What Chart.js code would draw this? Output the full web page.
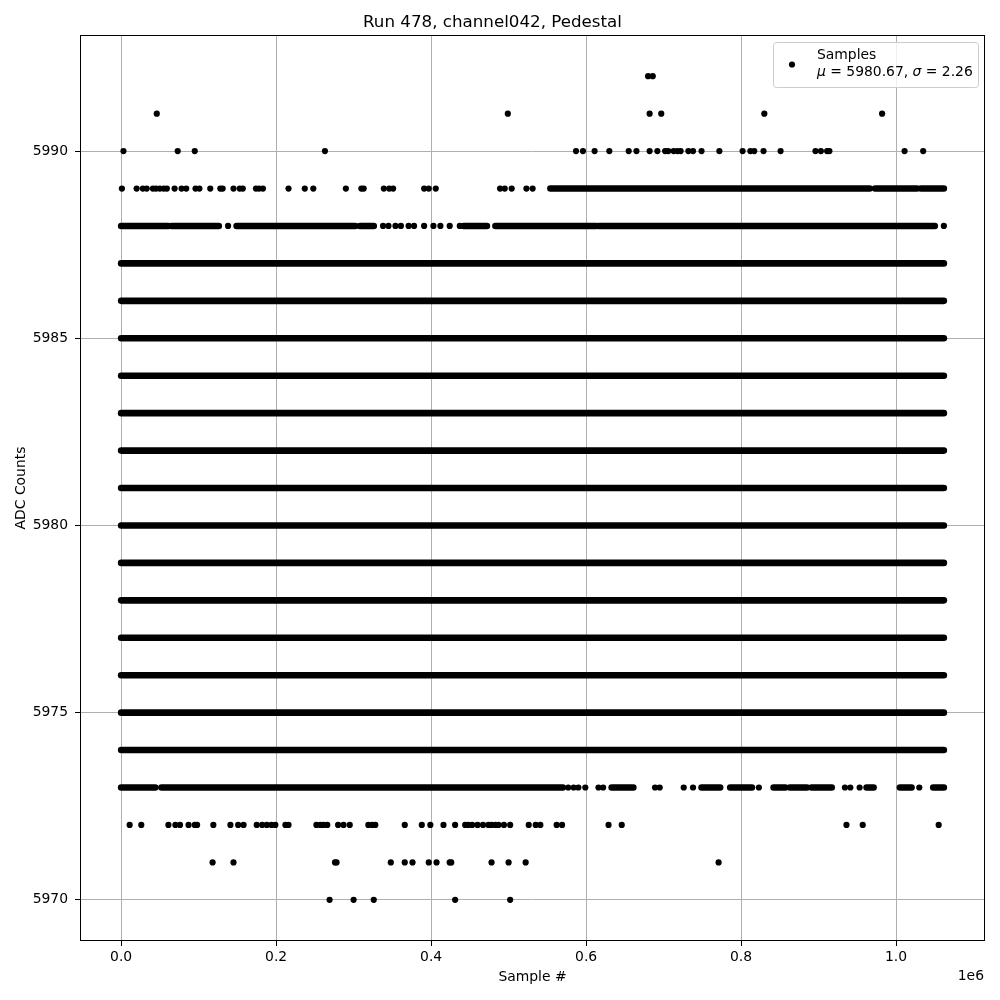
<!DOCTYPE html>
<html>
<head>
<meta charset="utf-8">
<script src="https://cdn.jsdelivr.net/npm/chart.js@4.4.1/dist/chart.umd.min.js"></script>
<style>
  html, body { margin: 0; padding: 0; background: #ffffff; }
  #wrap { position: relative; width: 1000px; height: 1000px; }
</style>
</head>
<body>
<div id="wrap"><canvas id="c" width="1000" height="1000"></canvas></div>
<script>
// ---------------- data ----------------
const chartTitle = "Run 478, channel042, Pedestal";
const xAxisLabel = "Sample #";
const yAxisLabel = "ADC Counts";
const seriesName = "Samples";
const statsMu = "5980.67";
const statsSigma = "2.26";

const xTickValues = [0, 200000, 400000, 600000, 800000, 1000000];
const xTickLabels = ["0.0", "0.2", "0.4", "0.6", "0.8", "1.0"];
const xOffsetText = "1e6";
const yTickValues = [5970, 5975, 5980, 5985, 5990];
const yTickLabels = ["5970", "5975", "5980", "5985", "5990"];

const firstSample = 0;
const lastSample = 1061700;

// ADC levels that are filled densely over the whole run
const fullRowLevels = [5974, 5975, 5976, 5977, 5978, 5979, 5980, 5981, 5982, 5983, 5984, 5985, 5986, 5987];

// dense stretches [from, to] of partially filled levels
const segments5989 = [[554000, 966000], [973000, 1027000], [1032000, 1061700]];
const segments5988 = [[0, 61000], [65000, 126000], [149000, 302000], [308000, 326000], [442000, 472000], [483000, 613000], [616000, 1050000]];
const segments5973 = [[0, 44000], [52000, 570000], [633000, 661000], [749000, 773000], [786000, 814000], [842000, 857000], [863000, 885000], [891000, 917000], [962000, 971000], [1005000, 1020000], [1048000, 1061700]];

// isolated samples (sample numbers) per level
const points5992 = [680000, 686000];
const points5991 = [46000, 499000, 682000, 697000, 830000, 982000];
const points5990 = [3000, 73000, 95000, 263000, 587000, 596000, 611000, 630000, 655000, 665000, 682000, 692000, 702000, 706000, 713000, 718000, 722000, 732000, 738000, 749000, 772000, 802000, 812000, 817000, 829000, 851000, 896000, 903000, 911000, 914000, 1011000, 1035000];
const points5989 = [1000, 20000, 28000, 33000, 41000, 45000, 50000, 55000, 59000, 69000, 78000, 84000, 96000, 101000, 115000, 128000, 131000, 145000, 153000, 157000, 174000, 178000, 183000, 216000, 237000, 248000, 290000, 310000, 313000, 339000, 346000, 351000, 391000, 397000, 406000, 489000, 495000, 504000, 523000, 531000];
const points5988 = [138000, 338000, 345000, 354000, 361000, 371000, 378000, 391000, 403000, 412000, 424000, 437000, 1061700];
const points5973 = [577000, 584000, 590000, 599000, 616000, 622000, 689000, 695000, 726000, 738000, 823000, 934000, 941000, 953000, 1030000];
const points5972 = [11000, 26000, 61000, 70000, 76000, 87000, 95000, 98000, 119000, 141000, 151000, 158000, 175000, 182000, 188000, 194000, 199000, 212000, 216000, 252000, 257000, 261000, 266000, 280000, 287000, 295000, 319000, 324000, 328000, 366000, 388000, 399000, 416000, 431000, 444000, 448000, 453000, 460000, 467000, 474000, 478000, 483000, 487000, 494000, 502000, 526000, 535000, 541000, 562000, 569000, 629000, 646000, 936000, 957000, 1055000];
const points5971 = [118000, 145000, 276000, 278000, 348000, 366000, 376000, 397000, 407000, 424000, 426000, 478000, 500000, 522000, 771000];
const points5970 = [269000, 300000, 326000, 431000, 502000];

// ---------------- build datasets ----------------
const DOT_R = 3.1;
const ROW_W = 6.6;
const datasets = [];

const isolated = [];
[[5992, points5992], [5991, points5991], [5990, points5990], [5989, points5989], [5988, points5988],
 [5973, points5973], [5972, points5972], [5971, points5971], [5970, points5970]].forEach(([lvl, xs]) => {
  xs.forEach(x => isolated.push({ x: x, y: lvl }));
});

datasets.push({
  label: seriesName,
  data: isolated,
  showLine: false,
  pointRadius: DOT_R,
  pointHoverRadius: DOT_R,
  pointBorderWidth: 0,
  pointBackgroundColor: "#000000",
  borderColor: "#000000",
  backgroundColor: "#000000"
});

function addRow(lvl, a, b) {
  datasets.push({
    label: seriesName + " " + lvl,
    data: [{ x: a, y: lvl }, { x: b, y: lvl }],
    showLine: true,
    borderColor: "#000000",
    borderWidth: ROW_W,
    borderCapStyle: "round",
    pointRadius: 0,
    pointHoverRadius: 0,
    fill: false
  });
}
fullRowLevels.forEach(l => addRow(l, firstSample, lastSample));
segments5989.forEach(s => addRow(5989, s[0], s[1]));
segments5988.forEach(s => addRow(5988, s[0], s[1]));
segments5973.forEach(s => addRow(5973, s[0], s[1]));

// axis limits like matplotlib's 5% margins
const xSpan = lastSample - firstSample;
const xMin = firstSample - 0.05 * xSpan;
const xMax = lastSample + 0.05 * xSpan;
const yMin = 5970 - 0.05 * 22;
const yMax = 5992 + 0.05 * 22;

const FONT = "'DejaVu Sans', 'Liberation Sans', sans-serif";

// frame, legend and offset text
const decorPlugin = {
  id: "decor",
  afterDraw(chart) {
    const ctx = chart.ctx;
    const a = chart.chartArea;
    ctx.save();
    // full axes frame
    ctx.strokeStyle = "#000000";
    ctx.lineWidth = 1;
    ctx.strokeRect(Math.round(a.left) + 0.5, Math.round(a.top) + 0.5, Math.round(a.right - a.left) - 1, Math.round(a.bottom - a.top) - 1);

    // offset text
    ctx.fillStyle = "#000000";
    ctx.font = "13.9px " + FONT;
    ctx.textAlign = "right";
    ctx.textBaseline = "middle";
    ctx.fillText(xOffsetText, a.right - 1, 976);

    // legend box
    const lx = 773, ly = 42, lw = 205, lh = 45;
    ctx.beginPath();
    if (ctx.roundRect) ctx.roundRect(lx + 0.5, ly + 0.5, lw, lh, 3); else ctx.rect(lx + 0.5, ly + 0.5, lw, lh);
    ctx.fillStyle = "rgba(255,255,255,0.8)";
    ctx.fill();
    ctx.strokeStyle = "#cccccc";
    ctx.lineWidth = 1;
    ctx.stroke();
    // marker
    ctx.beginPath();
    ctx.arc(792, 64.5, DOT_R, 0, Math.PI * 2);
    ctx.fillStyle = "#000000";
    ctx.fill();
    // text lines
    ctx.textAlign = "left";
    ctx.textBaseline = "middle";
    ctx.font = "13.9px " + FONT;
    ctx.fillText(seriesName, 817, 55);
    let x = 817;
    const y2 = 72;
    const parts = [["\u03bc", true], [" = " + statsMu + ", ", false], ["\u03c3", true], [" = " + statsSigma, false]];
    parts.forEach(([t, it]) => {
      ctx.font = (it ? "oblique " : "") + "13.9px " + FONT;
      ctx.fillText(t, x, y2);
      x += ctx.measureText(t).width;
    });
    ctx.restore();
  }
};

new Chart(document.getElementById("c"), {
  type: "scatter",
  data: { datasets: datasets },
  options: {
    responsive: false,
    animation: false,
    devicePixelRatio: 1,
    events: [],
    layout: { padding: { left: 0, right: 15, top: 0, bottom: 0 } },
    plugins: {
      legend: { display: false },
      tooltip: { enabled: false },
      title: {
        display: true,
        text: chartTitle,
        color: "#000000",
        font: { family: FONT, size: 16.7, weight: "normal" },
        padding: { top: 13, bottom: 2 }
      }
    },
    scales: {
      x: {
        type: "linear",
        min: xMin,
        max: xMax,
        afterBuildTicks: (s) => { s.ticks = xTickValues.map(v => ({ value: v })); },
        afterFit: (s) => { s.height = 59; },
        ticks: {
          color: "#000000",
          font: { family: FONT, size: 13.9 },
          padding: 3,
          maxRotation: 0,
          autoSkip: false,
          callback: (v) => { const i = xTickValues.indexOf(v); return i >= 0 ? xTickLabels[i] : ""; }
        },
        grid: { color: "#b0b0b0", lineWidth: 1, tickColor: "#000000", tickLength: 5 },
        border: { display: false },
        title: {
          display: true,
          text: xAxisLabel,
          color: "#000000",
          font: { family: FONT, size: 13.9 },
          padding: { top: 0, bottom: 14.5 }
        }
      },
      y: {
        type: "linear",
        min: yMin,
        max: yMax,
        afterBuildTicks: (s) => { s.ticks = yTickValues.map(v => ({ value: v })); },
        afterFit: (s) => { s.width = 80; },
        ticks: {
          color: "#000000",
          font: { family: FONT, size: 13.9 },
          padding: 7,
          autoSkip: false,
          callback: (v) => { const i = yTickValues.indexOf(v); return i >= 0 ? yTickLabels[i] : ""; }
        },
        grid: { color: "#b0b0b0", lineWidth: 1, tickColor: "#000000", tickLength: 5 },
        border: { display: false },
        title: {
          display: true,
          text: yAxisLabel,
          color: "#000000",
          font: { family: FONT, size: 13.9 },
          padding: { top: 12.7, bottom: 0 }
        }
      }
    }
  },
  plugins: [decorPlugin]
});
</script>
</body>
</html>
